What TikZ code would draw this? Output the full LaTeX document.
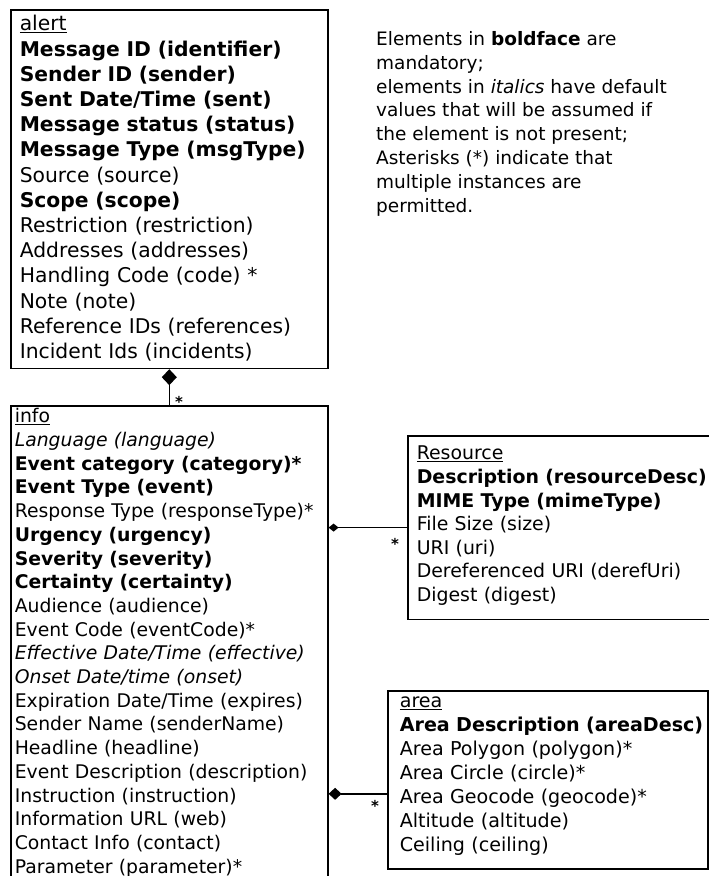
\documentclass[tikz,border=0pt]{standalone}
\usepackage{fontspec}
\setmainfont{DejaVu Sans}
\usetikzlibrary{arrows.meta}

% padding struts for the first and last row of a class box
\newcommand{\padtop}[1]{\rule{0pt}{#1}}
\newcommand{\padbot}[1]{\rule[-#1]{0pt}{#1}}

\begin{document}
\begin{tikzpicture}[
    x=1pt, y=-1pt,
    classbox/.style={rectangle,draw,line width=1.6pt,anchor=north west,inner ysep=0pt,align=left},
    link/.style={line width=1.4pt},
    mult/.style={inner sep=0pt,anchor=base,font=\fontsize{15}{16}\selectfont\bfseries}
]
\useasboundingbox (0,0) rectangle (709,876);
\clip (0,0) rectangle (709,876);

% alert (top left)
\node[classbox,inner xsep=9pt,text width=299pt,font=\fontsize{20.3}{25.2}\selectfont] (alert) at (10,9) {%
\begin{tabular}{@{}l@{}}
\padtop{21pt}\underline{alert}\\
\textbf{Message ID (identifier)}\\
\textbf{Sender ID (sender)}\\
\textbf{Sent Date/Time (sent)}\\
\textbf{Message status (status)}\\
\textbf{Message Type (msgType)}\\
Source (source)\\
\textbf{Scope (scope)}\\
Restriction (restriction)\\
Addresses (addresses)\\
Handling Code (code) *\\
Note (note)\\
Reference IDs (references)\\
Incident Ids (incidents)\padbot{10pt}
\end{tabular}};

% info (below alert, runs off the bottom)
\node[classbox,inner xsep=4pt,text width=309pt,font=\fontsize{18.8}{23.7}\selectfont] (info) at (10,405) {%
\begin{tabular}{@{}l@{}}
\padtop{17pt}\underline{info}\\
\textit{Language (language)}\\
\textbf{Event category (category)*}\\
\textbf{Event Type (event)}\\
Response Type (responseType)*\\
\textbf{Urgency (urgency)}\\
\textbf{Severity (severity)}\\
\textbf{Certainty (certainty)}\\
Audience (audience)\\
Event Code (eventCode)*\\
\textit{Effective Date/Time (effective)}\\
\textit{Onset Date/time (onset)}\\
Expiration Date/Time (expires)\\
Sender Name (senderName)\\
Headline (headline)\\
Event Description (description)\\
Instruction (instruction)\\
Information URL (web)\\
Contact Info (contact)\\
Parameter (parameter)*\padbot{8pt}
\end{tabular}};

% Resource (right, runs off the right edge)
\node[classbox,inner xsep=9pt,text width=287pt,font=\fontsize{18.9}{23.6}\selectfont] (res) at (407,435) {%
\begin{tabular}{@{}l@{}}
\padtop{24pt}\underline{Resource}\\
\textbf{Description (resourceDesc)}\\
\textbf{MIME Type (mimeType)}\\
File Size (size)\\
URI (uri)\\
Dereferenced URI (derefUri)\\
Digest (digest)\padbot{18pt}
\end{tabular}};

% area (bottom right)
\node[classbox,inner xsep=12pt,text width=296pt,font=\fontsize{19.1}{24}\selectfont] (area) at (387,690) {%
\begin{tabular}{@{}l@{}}
\padtop{17pt}\underline{area}\\
\textbf{Area Description (areaDesc)}\\
Area Polygon (polygon)*\\
Area Circle (circle)*\\
Area Geocode (geocode)*\\
Altitude (altitude)\\
Ceiling (ceiling)\padbot{17pt}
\end{tabular}};

% legend
\node[anchor=north west,inner sep=0pt,align=left,font=\fontsize{18.5}{23.9}\selectfont] (note) at (376,31) {%
Elements in \textbf{boldface} are\\
mandatory;\\
elements in \textit{italics} have default\\
values that will be assumed if\\
the element is not present;\\
Asterisks (*) indicate that\\
multiple instances are\\
permitted.};

% composition links
\coordinate (areain) at ([yshift=-14pt]area.west);
\draw[link,{Diamond[length=16pt,width=15pt]}-] (alert.south) -- (info.north);
\draw[link,{Diamond[length=10pt,width=8pt]}-] (info.east |- res.west) -- (res.west);
\draw[link,{Diamond[length=13pt,width=12pt]}-] (info.east |- areain) -- (areain);

% multiplicities
\node[mult] (m1) at (179,407) {*};
\node[mult] (m2) at (395,549) {*};
\node[mult] (m3) at (375,811) {*};

\end{tikzpicture}
\end{document}
